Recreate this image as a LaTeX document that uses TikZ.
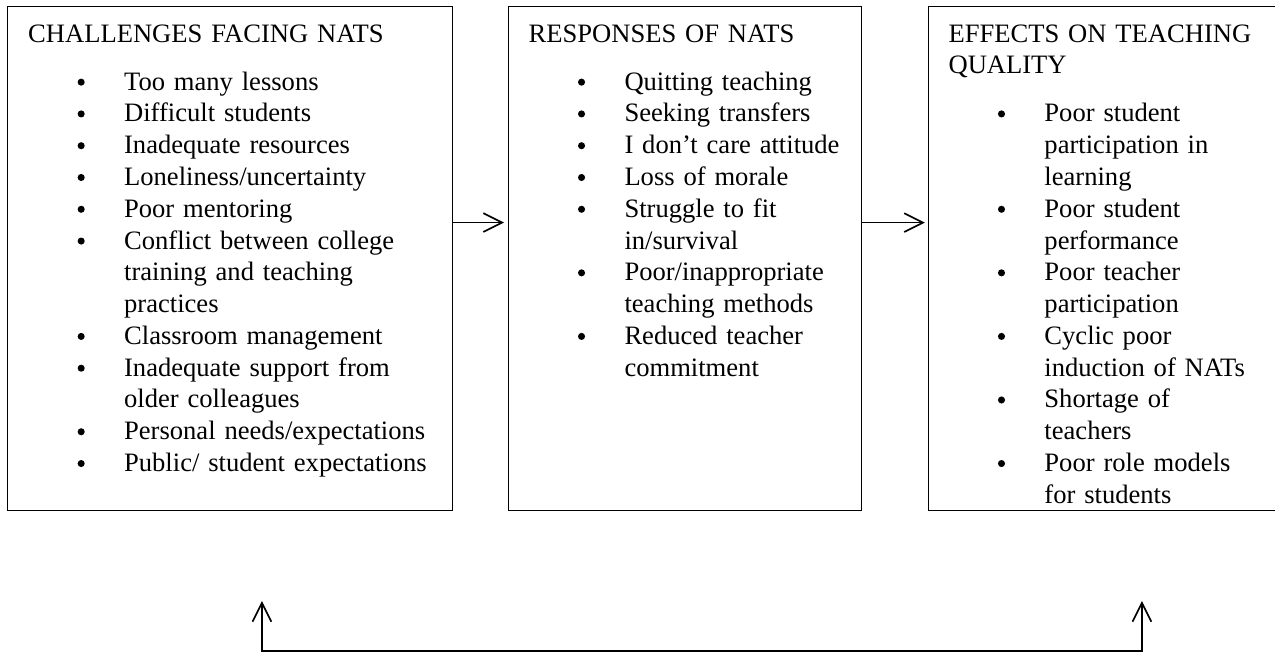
\documentclass[tikz,border=0pt]{standalone}
\usepackage{fontspec}
\setmainfont{Liberation Serif}
\usepackage{enumitem}
\usetikzlibrary{arrows.meta,calc,positioning}

\newcommand{\listdot}{\tikz[baseline=-3.6pt]\fill (0,0) circle (1.6pt);}
\setlist[itemize]{label=\listdot, leftmargin=43.3pt, labelindent=0pt, labelwidth=25.5pt,
    labelsep=17.8pt, topsep=7.35pt, partopsep=0pt, itemsep=0pt, parsep=0pt}

\begin{document}
\begin{tikzpicture}[
    >={Straight Barb[length=8.5pt,width=8.5pt]},
    panel/.style={draw, line width=0.5pt, anchor=north west, inner sep=0pt, minimum height=7.998cm},
    paneltext/.style={anchor=north west, inner sep=0pt, align=left, font=\fontsize{12pt}{14.35pt}\selectfont},
    link/.style={->, line width=0.75pt}
  ]
    \useasboundingbox (0,0) rectangle (20.232,-10.41);

    \node[panel, minimum width=7.061cm] (chal) at (0.111,-0.095) {};
    \node[panel, minimum width=5.601cm] (resp) at (8.061,-0.095) {};
    \node[panel, minimum width=5.6cm] (effect) at (14.725,-0.095) {};

    \node[paneltext, text width=189pt] (chaltext) at ($(chal.north west)+(0.33,-0.286)$) {CHALLENGES FACING NATS
      \begin{itemize}
        \item Too many lessons
        \item Difficult students
        \item Inadequate resources
        \item Loneliness/uncertainty
        \item Poor mentoring
        \item Conflict between college\\ training and teaching\\ practices
        \item Classroom management
        \item Inadequate support from\\ older colleagues
        \item Personal needs/expectations
        \item Public/ student expectations
      \end{itemize}};

    \node[paneltext, text width=149pt] (resptext) at ($(resp.north west)+(0.32,-0.286)$) {RESPONSES OF NATS
      \begin{itemize}
        \item Quitting teaching
        \item Seeking transfers
        \item I don’t care attitude
        \item Loss of morale
        \item Struggle to fit\\ in/survival
        \item Poor/inappropriate\\ teaching methods
        \item Reduced teacher\\ commitment
      \end{itemize}};

    \node[paneltext, text width=146pt] (effecttext) at ($(effect.north west)+(0.32,-0.286)$) {EFFECTS ON TEACHING\\ QUALITY
      \begin{itemize}
        \item Poor student\\ participation in\\ learning
        \item Poor student\\ performance
        \item Poor teacher\\ participation
        \item Cyclic poor\\ induction of NATs
        \item Shortage of\\ teachers
        \item Poor role models\\ for students
      \end{itemize}};

    \draw[link, shorten >=1.8pt] ([yshift=0.571cm]chal.east) -- ([yshift=0.571cm]resp.west);
    \draw[link, shorten >=1.4pt] ([yshift=0.571cm]resp.east) -- ([yshift=0.571cm]effect.west);

    % feedback line under the panels
    \coordinate (tipL) at (4.157,-9.537);
    \coordinate (backL) at (4.157,-10.33);
    \coordinate (backR) at (18.121,-10.33);
    \coordinate (tipR) at (18.121,-9.537);
    \draw[<->, line width=0.75pt] (tipL) -- (backL) -- (backR) -- (tipR);
\end{tikzpicture}
\end{document}
